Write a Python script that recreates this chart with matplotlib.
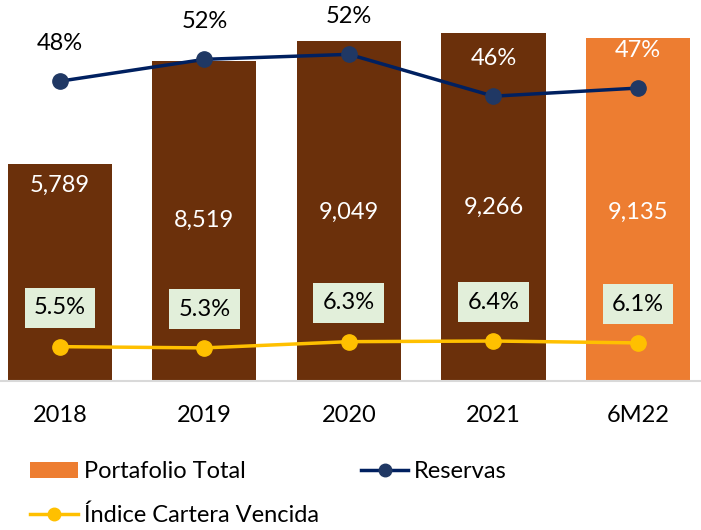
import matplotlib.pyplot as plt
from matplotlib.patches import Patch
from matplotlib.lines import Line2D

plt.rcParams['font.family'] = ['Lato', 'DejaVu Sans']

years = ["2018", "2019", "2020", "2021", "6M22"]
portafolio = [5789, 8519, 9049, 9266, 9135]
reservas = [48.0, 51.5, 52.3, 45.6, 46.9]
indice = [5.5, 5.3, 6.3, 6.4, 6.1]

brown = "#6B300B"
orange = "#ED7D31"
navy = "#002060"
navy_dot = "#203864"
yellow = "#FFC000"

fig = plt.figure(figsize=(7.01, 5.30), dpi=100)
ax = fig.add_axes([0, 1 - 381 / 530, 1, 381 / 530])
x = list(range(len(years)))

colors = [brown] * 4 + [orange]
ax.bar(x, portafolio, width=0.72, color=colors, edgecolor="none", zorder=1)
ax.set_xlim(-0.415, 4.436)
ax.set_ylim(0, 10146)

# value labels inside bars
label_y = [5220, 4290, 4500, 4630, 4500]
for i, v in enumerate(portafolio):
    ax.text(i, label_y[i], f"{v:,}", color="white", ha="center", va="center", fontsize=17)

for s in ["top", "left", "right"]:
    ax.spines[s].set_visible(False)
ax.spines["bottom"].set_color("#d9d9d9")
ax.spines["bottom"].set_linewidth(1.5)
ax.set_yticks([])
ax.set_xticks(x)
ax.set_xticklabels(years, fontsize=17)
ax.tick_params(axis="x", length=0, pad=17)

ax2 = ax.twinx()
ax2.set_ylim(0, 61)
ax2.axis("off")
ax2.plot(x, reservas, color=navy, linewidth=2.5, marker="o", markersize=11,
         markerfacecolor=navy_dot, markeredgecolor=navy_dot, zorder=3)
ax2.plot(x, indice, color=yellow, linewidth=2.5, marker="o", markersize=11,
         markerfacecolor=yellow, markeredgecolor=yellow, zorder=3)

res_colors = ["black", "black", "black", "white", "white"]
for i, v in enumerate(reservas):
    ax2.annotate(f"{v:.0f}%", (i, v), xytext=(0, 27), textcoords="offset points",
                 ha="center", va="center", fontsize=17, color=res_colors[i])

for i, v in enumerate(indice):
    ax2.annotate(f"{v:.1f}%", (i, v), xytext=(0, 28), textcoords="offset points",
                 ha="center", va="center", fontsize=17, color="black",
                 bbox=dict(boxstyle="square,pad=0.4", facecolor="#E2EFDA", edgecolor="none"))

handles = [Patch(facecolor=orange, edgecolor="none"),
           Line2D([], [], color=yellow, linewidth=2.5, marker="o", markersize=9),
           Line2D([], [], color=navy, linewidth=2.5, marker="o", markersize=9,
                  markerfacecolor=navy_dot, markeredgecolor=navy_dot)]
labels = ["Portafolio Total", "Índice Cartera Vencida", "Reservas"]
fig.legend(handles, labels, ncol=2, loc="upper left", bbox_to_anchor=(0.03, 1 - 452 / 530),
           frameon=False, fontsize=17, handlelength=2.0, handletextpad=0.25,
           columnspacing=1.8, labelspacing=0.95, borderaxespad=0)

fig.savefig("out.png", dpi=100)
